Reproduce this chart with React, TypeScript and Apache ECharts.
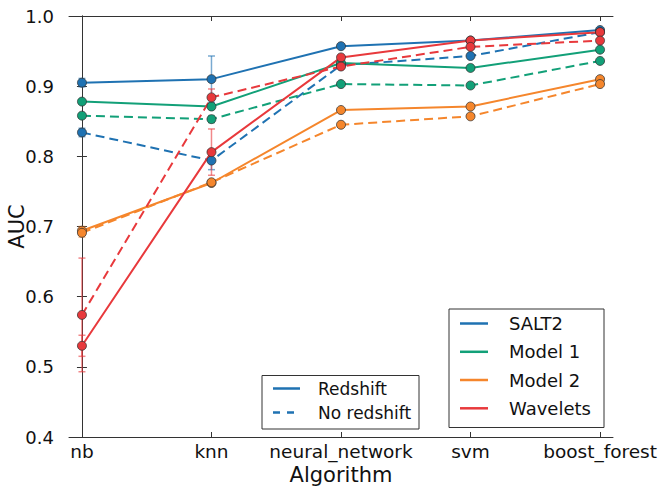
import React, { useEffect, useRef } from "react";
import * as echarts from "echarts";

const categories = ["nb", "knn", "neural_network", "svm", "boost_forest"];
const yTicks = [0.4, 0.5, 0.6, 0.7, 0.8, 0.9, 1.0];
const xAxisTitle = "Algorithm";
const yAxisTitle = "AUC";

const salt2Red = [0.905, 0.910, 0.957, 0.965, 0.980];
const salt2RedErr = [0.006, 0.033, 0.002, 0.002, 0.003];
const salt2NoRed = [0.834, 0.794, 0.930, 0.943, 0.977];
const salt2NoRedErr = [0.006, 0.013, 0.002, 0.002, 0.002];

const model1Red = [0.878, 0.871, 0.933, 0.926, 0.952];
const model1RedErr = [0.003, 0.004, 0.002, 0.002, 0.002];
const model1NoRed = [0.858, 0.853, 0.903, 0.901, 0.936];
const model1NoRedErr = [0.003, 0.005, 0.002, 0.002, 0.002];

const model2Red = [0.694, 0.762, 0.866, 0.871, 0.910];
const model2RedErr = [0.006, 0.003, 0.002, 0.002, 0.002];
const model2NoRed = [0.691, 0.763, 0.845, 0.857, 0.903];
const model2NoRedErr = [0.006, 0.003, 0.003, 0.002, 0.002];

const waveRed = [0.530, 0.806, 0.941, 0.965, 0.977];
const waveRedErr = [0.015, 0.033, 0.002, 0.002, 0.002];
const waveNoRed = [0.574, 0.884, 0.928, 0.956, 0.965];
const waveNoRedErr = [0.081, 0.012, 0.002, 0.002, 0.002];

const modelNames = ["SALT2", "Model 1", "Model 2", "Wavelets"];
const colors = ["#1f72b2", "#12a078", "#f5862c", "#e8393c"];
const redshiftNames = ["Redshift", "No redshift"];

const FONT = "DejaVu Sans";

const seriesDefs = [
  { name: "SALT2 R", vals: salt2Red, err: salt2RedErr, color: colors[0], dashed: false },
  { name: "SALT2 NR", vals: salt2NoRed, err: salt2NoRedErr, color: colors[0], dashed: true },
  { name: "Model 1 R", vals: model1Red, err: model1RedErr, color: colors[1], dashed: false },
  { name: "Model 1 NR", vals: model1NoRed, err: model1NoRedErr, color: colors[1], dashed: true },
  { name: "Model 2 R", vals: model2Red, err: model2RedErr, color: colors[2], dashed: false },
  { name: "Model 2 NR", vals: model2NoRed, err: model2NoRedErr, color: colors[2], dashed: true },
  { name: "Wavelets R", vals: waveRed, err: waveRedErr, color: colors[3], dashed: false },
  { name: "Wavelets NR", vals: waveNoRed, err: waveNoRedErr, color: colors[3], dashed: true },
];

function buildSeries() {
  const out: any[] = [];
  seriesDefs.forEach((s) => {
    out.push({
      type: "custom",
      name: s.name + " err",
      xAxisIndex: 0,
      yAxisIndex: 0,
      data: s.vals.map((v, i) => [i, v, s.err[i]]),
      silent: true,
      renderItem: (params: any, api: any) => {
        const x = api.value(0);
        const y = api.value(1);
        const e = api.value(2);
        const top = api.coord([x, y + e]);
        const bot = api.coord([x, y - e]);
        const style = { stroke: s.color, lineWidth: 1.5, opacity: 0.6 };
        const cap = 3.5;
        return {
          type: "group",
          children: [
            { type: "line", shape: { x1: top[0], y1: top[1], x2: bot[0], y2: bot[1] }, style },
            { type: "line", shape: { x1: top[0] - cap, y1: top[1], x2: top[0] + cap, y2: top[1] }, style },
            { type: "line", shape: { x1: bot[0] - cap, y1: bot[1], x2: bot[0] + cap, y2: bot[1] }, style },
          ],
        };
      },
    });
    out.push({
      type: "line",
      name: s.name,
      xAxisIndex: 0,
      yAxisIndex: 0,
      data: s.vals.map((v, i) => [i, v]),
      symbol: "circle",
      symbolSize: 9,
      showSymbol: true,
      lineStyle: { color: s.color, width: 2, type: s.dashed ? [9, 5] : "solid" },
      itemStyle: { color: s.color, borderColor: "rgba(50,50,50,0.75)", borderWidth: 1 },
      emphasis: { disabled: true },
    });
  });
  return out;
}

function legendGraphics() {
  const els: any[] = [];
  // Axis titles
  els.push({
    type: "text",
    x: 17,
    y: 226.5,
    rotation: Math.PI / 2,
    style: { text: yAxisTitle, fill: "#111", font: `21px "${FONT}"`, textAlign: "center", textVerticalAlign: "middle" },
  });
  els.push({
    type: "text",
    x: 341,
    y: 475,
    style: { text: xAxisTitle, fill: "#111", font: `21px "${FONT}"`, textAlign: "center", textVerticalAlign: "middle" },
  });
  // Legend 1: Redshift / No redshift
  els.push({
    type: "rect",
    shape: { x: 262, y: 375.5, width: 157, height: 53.5 },
    style: { fill: "#fff", stroke: "#333", lineWidth: 1 },
    z: 100,
  });
  const l1y = [388.5, 412.5];
  redshiftNames.forEach((n, i) => {
    els.push({
      type: "line",
      shape: { x1: 273, y1: l1y[i], x2: 300, y2: l1y[i] },
      style: { stroke: colors[0], lineWidth: 2.5, lineDash: i === 1 ? [7, 7] : null },
      z: 101,
    });
    els.push({
      type: "text",
      x: 318,
      y: l1y[i],
      style: { text: n, fill: "#111", font: `17px "${FONT}"`, textVerticalAlign: "middle" },
      z: 101,
    });
  });
  // Legend 2: models
  els.push({
    type: "rect",
    shape: { x: 449, y: 309, width: 155, height: 118.5 },
    style: { fill: "#fff", stroke: "#333", lineWidth: 1 },
    z: 100,
  });
  const l2y = [323.5, 351.8, 380, 408.3];
  modelNames.forEach((n, i) => {
    els.push({
      type: "line",
      shape: { x1: 460, y1: l2y[i], x2: 488, y2: l2y[i] },
      style: { stroke: colors[i], lineWidth: 2.5 },
      z: 101,
    });
    els.push({
      type: "text",
      x: 509,
      y: l2y[i],
      style: { text: n, fill: "#111", font: `18px "${FONT}"`, textVerticalAlign: "middle" },
      z: 101,
    });
  });
  return els;
}

export default function App() {
  const ref = useRef<HTMLDivElement>(null);
  useEffect(() => {
    if (!ref.current) return;
    const chart = echarts.init(ref.current, null, { renderer: "svg" });
    const catIdx = categories.map((_, i) => i);
    const axisLineStyle = { color: "#333", width: 1 };
    chart.setOption({
      animation: false,
      backgroundColor: "#fff",
      textStyle: { fontFamily: FONT },
      grid: { left: 69, top: 16, right: 49, bottom: 51, containLabel: false, outerBoundsMode: "none" },
      xAxis: [
        {
          type: "value",
          min: -0.1,
          max: 4.1,
          position: "bottom",
          axisLine: { show: true, lineStyle: axisLineStyle },
          axisTick: { show: true, inside: true, length: 5, customValues: catIdx, lineStyle: { color: "#333" } },
          axisLabel: {
            show: true,
            customValues: catIdx,
            margin: 5,
            fontSize: 18.5,
            color: "#111",
            fontFamily: FONT,
            formatter: (v: number) => categories[Math.round(v)] ?? "",
          },
          splitLine: { show: false },
        },
        {
          type: "value",
          min: -0.1,
          max: 4.1,
          position: "top",
          axisLine: { show: true, lineStyle: axisLineStyle },
          axisTick: { show: true, inside: true, length: 5, customValues: catIdx, lineStyle: { color: "#333" } },
          axisLabel: { show: false },
          splitLine: { show: false },
        },
      ],
      yAxis: [
        {
          type: "value",
          min: 0.4,
          max: 1.0,
          interval: 0.1,
          position: "left",
          axisLine: { show: true, lineStyle: axisLineStyle },
          axisTick: { show: true, inside: true, length: 5, lineStyle: { color: "#333" } },
          axisLabel: {
            show: true,
            margin: 15,
            fontSize: 18,
            color: "#111",
            fontFamily: FONT,
            formatter: (v: number) => v.toFixed(1),
          },
          splitLine: { show: false },
        },
        {
          type: "value",
          min: 0.4,
          max: 1.0,
          interval: 0.1,
          position: "right",
          axisLine: { show: true, lineStyle: axisLineStyle },
          axisTick: { show: true, inside: true, length: 5, lineStyle: { color: "#333" } },
          axisLabel: { show: false },
          splitLine: { show: false },
        },
      ],
      series: buildSeries(),
      graphic: legendGraphics(),
    });
    return () => chart.dispose();
  }, []);
  return (
    <div
      ref={ref}
      style={{ position: "fixed", left: 0, top: 0, width: 662, height: 488 }}
    />
  );
}
